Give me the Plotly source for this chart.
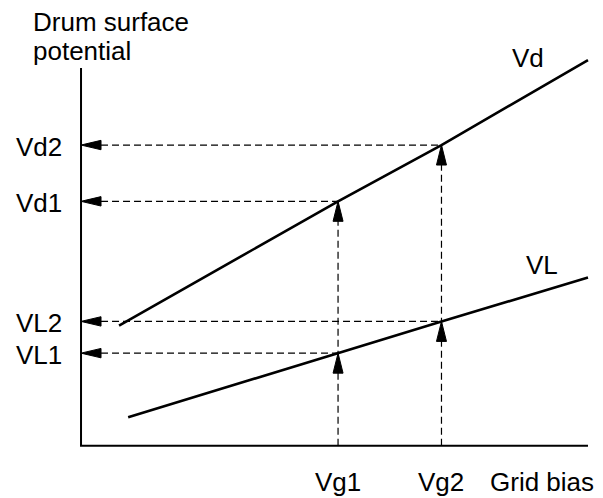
import plotly.graph_objects as go

# ---- data (arbitrary units) ----
vg_labels = ["Vg1", "Vg2"]
vg_values = [50.7, 71.1]          # grid bias settings
vd_labels = ["Vd1", "Vd2"]
vd_values = [64.7, 79.6]          # dark potential at Vg1, Vg2
vl_labels = ["VL1", "VL2"]
vl_values = [24.5, 32.9]          # light potential at Vg1, Vg2

vd_start = (7.5, 31.8)
vd_end = (100.0, 102.1)
vl_start = (9.3, 7.5)
vl_end = (100.0, 44.5)

axis_x_max = 100.0
axis_y_max = 100.0

# ---- layout constants ----
W, H = 603, 498
x_range = [-15.98, 102.96]
y_range = [-13.85, 118.0]
pxx = W / (x_range[1] - x_range[0])   # px per x unit
pxy = H / (y_range[1] - y_range[0])   # px per y unit

FONT = dict(family="Liberation Sans, Arial, sans-serif", size=26, color="black")
DASH = "7px,4px"
HEAD_LEN = 20   # px
HEAD_HALF = 4.7  # px

fig = go.Figure()

# dashed guide lines
for vg, vd, vl in zip(vg_values, vd_values, vl_values):
    # vertical from x-axis to Vd line
    fig.add_trace(go.Scatter(x=[vg, vg], y=[0, vd], mode="lines",
                             line=dict(color="black", width=1.2, dash=DASH),
                             hoverinfo="skip", showlegend=False))
    for lvl in (vd, vl):
        fig.add_trace(go.Scatter(x=[HEAD_LEN / pxx, vg], y=[lvl, lvl], mode="lines",
                                 line=dict(color="black", width=1.2, dash=DASH),
                                 hoverinfo="skip", showlegend=False))

# arrowheads
def head_left(y):
    L = HEAD_LEN / pxx
    h = HEAD_HALF / pxy
    return [0, L, L, 0], [y, y + h, y - h, y]

def head_up(x, y):
    L = HEAD_LEN / pxy
    h = (HEAD_HALF + 0.3) / pxx
    return [x, x + h, x - h, x], [y, y - L, y - L, y]

for vg, vd, vl in zip(vg_values, vd_values, vl_values):
    for lvl in (vd, vl):
        hx, hy = head_left(lvl)
        fig.add_trace(go.Scatter(x=hx, y=hy, mode="lines", fill="toself",
                                 fillcolor="black", line=dict(color="black", width=1),
                                 hoverinfo="skip", showlegend=False))
        ux, uy = head_up(vg, lvl)
        fig.add_trace(go.Scatter(x=ux, y=uy, mode="lines", fill="toself",
                                 fillcolor="black", line=dict(color="black", width=1),
                                 hoverinfo="skip", showlegend=False))

# characteristic lines
fig.add_trace(go.Scatter(x=[vd_start[0]] + vg_values + [vd_end[0]],
                         y=[vd_start[1]] + vd_values + [vd_end[1]],
                         mode="lines", line=dict(color="black", width=2.6),
                         hoverinfo="skip", showlegend=False))
fig.add_trace(go.Scatter(x=[vl_start[0]] + vg_values + [vl_end[0]],
                         y=[vl_start[1]] + vl_values + [vl_end[1]],
                         mode="lines", line=dict(color="black", width=2.6),
                         hoverinfo="skip", showlegend=False))

# axes
fig.add_trace(go.Scatter(x=[0, 0, axis_x_max], y=[axis_y_max, 0, 0], mode="lines",
                         line=dict(color="black", width=2),
                         hoverinfo="skip", showlegend=False))

ann = []
for lab, val in list(zip(vd_labels, vd_values)) + list(zip(vl_labels, vl_values)):
    ann.append(dict(x=0, y=val, text=lab, showarrow=False, xanchor="right",
                    yanchor="middle", xshift=-17, yshift=-2, font=FONT))
for lab, val in zip(vg_labels, vg_values):
    ann.append(dict(x=val, y=-9.6, text=lab, showarrow=False, xanchor="center",
                    yanchor="middle", font=FONT))
ann.append(dict(x=91.0, y=-9.6, text="Grid bias", showarrow=False,
                xanchor="center", yanchor="middle", font=FONT))
ann.append(dict(x=88.1, y=102.6, text="Vd", showarrow=False,
                xanchor="center", yanchor="middle", font=FONT))
ann.append(dict(x=91.0, y=47.8, text="VL", showarrow=False,
                xanchor="center", yanchor="middle", font=FONT))
ann.append(dict(x=-9.9, y=112.1, text="Drum surface", showarrow=False,
                xanchor="left", yanchor="middle", font=FONT))
ann.append(dict(x=-9.9, y=104.6, text="potential", showarrow=False,
                xanchor="left", yanchor="middle", font=FONT))

fig.update_layout(
    width=W, height=H,
    margin=dict(l=0, r=0, t=0, b=0),
    paper_bgcolor="white", plot_bgcolor="white",
    xaxis=dict(range=x_range, visible=False, fixedrange=True),
    yaxis=dict(range=y_range, visible=False, fixedrange=True),
    annotations=ann,
    showlegend=False,
)

fig.write_html("out.html", config={"displayModeBar": False},
               post_script="document.body.style.margin='0px';document.body.style.overflow='hidden';")
